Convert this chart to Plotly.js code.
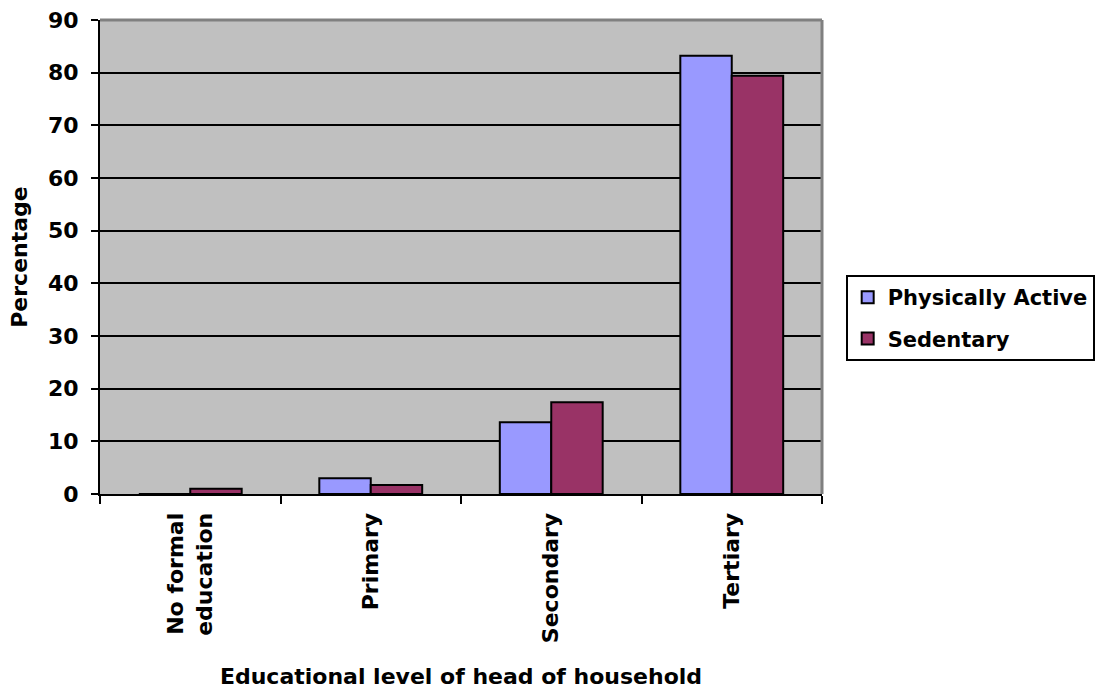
<!DOCTYPE html>
<html>
<head>
<meta charset="utf-8">
<script src="https://cdn.plot.ly/plotly-3.0.1.min.js"></script>
<style>
  html, body { margin: 0; padding: 0; background: #ffffff; }
  #chart { width: 1099px; height: 691px; }
</style>
</head>
<body>
<div id="chart"></div>
<script>
// Educational level of head of household vs. activity status (%)
const categories = ["No formal<br>education", "Primary", "Secondary", "Tertiary"];
const physicallyActive = [0, 3.0, 13.6, 83.2];
const sedentary = [1.0, 1.7, 17.4, 79.4];
const yTicks = [0, 10, 20, 30, 40, 50, 60, 70, 80, 90];

const FONT = "DejaVu Sans, Liberation Sans, Arial, sans-serif";
const bold = (size) => ({ family: FONT, size: size, color: "#000000", weight: "bold" });

const traces = [
  {
    type: "bar",
    name: "Physically Active",
    legendgroup: "pa",
    x: categories,
    y: physicallyActive,
    marker: { color: "#9999FF", line: { color: "#000000", width: 2 } }
  },
  {
    type: "bar",
    name: "Sedentary",
    legendgroup: "sed",
    x: categories,
    y: sedentary,
    marker: { color: "#993366", line: { color: "#000000", width: 2 } }
  }
];

const layout = {
  width: 1099,
  height: 691,
  margin: { l: 100, r: 277, t: 20, b: 197, autoexpand: false },
  paper_bgcolor: "#ffffff",
  plot_bgcolor: "#C0C0C0",
  barmode: "group",
  bargap: 0.43,
  bargroupgap: 0,
  font: bold(22),
  xaxis: {
    type: "category",
    tickangle: -90,
    ticks: "outside",
    tickson: "boundaries",
    ticklen: 8,
    tickwidth: 2,
    tickcolor: "#000000",
    ticklabelstandoff: 8,
    showline: true,
    linecolor: "#000000",
    linewidth: 2,
    showgrid: false,
    tickfont: bold(22),
    title: {
      text: "Educational level of head of household",
      font: bold(22),
      standoff: 26
    },
    automargin: false
  },
  yaxis: {
    range: [0, 90],
    tickvals: yTicks,
    ticktext: yTicks.map(String),
    ticks: "outside",
    ticklen: 7,
    tickwidth: 2,
    tickcolor: "#000000",
    ticklabelstandoff: 8,
    showline: true,
    linecolor: "#000000",
    linewidth: 2,
    showgrid: true,
    gridcolor: "#000000",
    gridwidth: 2,
    zeroline: false,
    tickfont: bold(22),
    title: {
      text: "Percentage",
      font: bold(22),
      standoff: 14
    },
    automargin: false
  },
  legend: {
    xref: "container",
    yref: "container",
    x: 0.7695,
    xanchor: "left",
    y: 0.602,
    yanchor: "top",
    bgcolor: "#ffffff",
    bordercolor: "#000000",
    borderwidth: 2,
    font: bold(21),
    itemwidth: 30,
    traceorder: "grouped",
    tracegroupgap: 11
  },
  shapes: [
    // gray frame along the top and right of the plotting area
    { type: "line", xref: "paper", yref: "paper", x0: 0, x1: 1, y0: 1, y1: 1,
      line: { color: "#808080", width: 3 } },
    { type: "line", xref: "paper", yref: "paper", x0: 1, x1: 1, y0: 0, y1: 1,
      line: { color: "#808080", width: 3 } }
  ]
};

Plotly.newPlot("chart", traces, layout, { displayModeBar: false, staticPlot: true });
</script>
</body>
</html>
